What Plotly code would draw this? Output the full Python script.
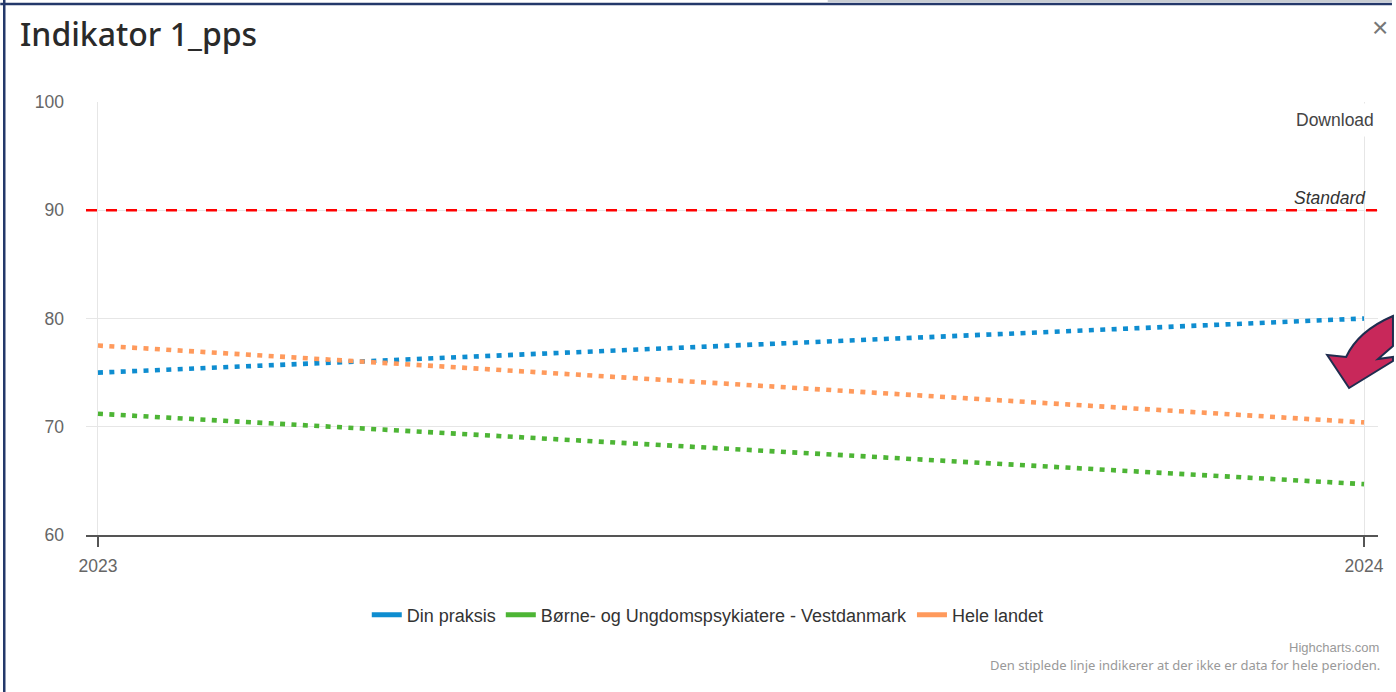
import plotly.graph_objects as go

# ---- data ----
years = [2023, 2024]
year_labels = ["2023", "2024"]
din_praksis = [75.0, 80.0]
vestdanmark = [71.2, 64.7]
hele_landet = [77.5, 70.4]
standard_value = 90
series_names = ["Din praksis", "Børne- og Ungdomspsykiatere - Vestdanmark", "Hele landet"]
series_colors = ["#0E8DD0", "#4DB535", "#FF9A5C"]
y_ticks = [60, 70, 80, 90, 100]

W, H = 1396, 692
ML, MR, MT, MB = 86, 14, 102, 157
PW, PH = W - ML - MR, H - MT - MB


def px(x):
    return (x - ML) / PW


def py(y):
    return (H - MB - y) / PH


fig = go.Figure()
for vals, name, col in zip([din_praksis, vestdanmark, hele_landet], series_names, series_colors):
    fig.add_trace(go.Scatter(x=years, y=vals, mode="lines", name=name, showlegend=False,
                             line=dict(color=col, width=4.6, dash="5px,6.4px")))
    fig.add_trace(go.Scatter(x=[None], y=[None], mode="lines", name=name, showlegend=True,
                             line=dict(color=col, width=5)))

# x range with Highcharts-like padding
x0 = 2023 - 12 / 1270
x1 = 2023 + (PW - 12) / 1270

fig.update_layout(
    width=W, height=H,
    margin=dict(l=ML, r=MR, t=MT, b=MB),
    paper_bgcolor="white", plot_bgcolor="white",
    font=dict(family="Liberation Sans, Arial, sans-serif", color="#333333"),
    title=dict(text="Indikator 1_pps", x=20 / W, xref="container", xanchor="left",
               y=1 - 35 / H, yref="container", yanchor="middle",
               font=dict(family="Noto Sans, Open Sans, sans-serif", size=32, weight=500,
                         color="#2a2a2a")),
    xaxis=dict(range=[x0, x1], tickvals=years, ticktext=year_labels,
               showgrid=True, gridcolor="#e6e6e6", gridwidth=1,
               showline=True, linecolor="#555555", linewidth=1.5,
               ticks="outside", ticklen=10, tickwidth=1.5, tickcolor="#555555",
               ticklabelstandoff=4,
               tickfont=dict(size=17.5, color="#666666"), zeroline=False, fixedrange=True),
    yaxis=dict(range=[60, 100], tickvals=y_ticks, showgrid=True, gridcolor="#e6e6e6",
               gridwidth=1, showline=False, zeroline=False, ticks="",
               ticklabelstandoff=21,
               tickfont=dict(size=17.5, color="#666666"), fixedrange=True),
    legend=dict(orientation="h", x=0.507, xref="container", xanchor="center",
                y=1 - 615 / H, yref="container", yanchor="middle",
                font=dict(size=18, color="#333333"), itemwidth=30),
    showlegend=True,
)

# standard line
fig.add_shape(type="line", xref="paper", yref="y", x0=0, x1=1, y0=standard_value, y1=standard_value,
              line=dict(color="#FF0000", width=2.5, dash="11px,9px"), layer="above")

annotations = [
    dict(text="<i>Standard</i>", xref="paper", yref="y", x=px(1372), y=standard_value,
         xanchor="right", yanchor="bottom", showarrow=False, yshift=0,
         font=dict(size=17.5, color="#333333")),
    dict(text="Download", xref="paper", yref="paper", x=px(1385), y=py(120),
         xanchor="right", yanchor="middle", showarrow=False, bgcolor="white", borderpad=6,
         font=dict(size=17.5, color="#444444")),
    dict(text="×", xref="paper", yref="paper", x=px(1384), y=py(28),
         xanchor="center", yanchor="middle", showarrow=False,
         font=dict(size=28, color="#777777")),
    dict(text="Highcharts.com", xref="paper", yref="paper", x=px(1385), y=py(647),
         xanchor="right", yanchor="middle", showarrow=False,
         font=dict(size=13, color="#999999")),
    dict(text="Den stiplede linje indikerer at der ikke er data for hele perioden.",
         xref="paper", yref="paper", x=px(1386), y=py(665),
         xanchor="right", yanchor="middle", showarrow=False,
         font=dict(family="Noto Sans, Open Sans, sans-serif", size=13, color="#999999")),
]
fig.update_layout(annotations=annotations)

# frame borders
fig.add_shape(type="line", xref="paper", yref="paper", x0=px(0), x1=px(W), y0=py(4), y1=py(4),
              line=dict(color="#24386A", width=2.5))
fig.add_shape(type="line", xref="paper", yref="paper", x0=px(830), x1=px(W), y0=py(1), y1=py(1),
              line=dict(color="#C8CCD2", width=2))
fig.add_shape(type="line", xref="paper", yref="paper", x0=px(4), x1=px(4), y0=py(0), y1=py(H),
              line=dict(color="#24386A", width=2.5))

# decorative arrow (overlay)
pts = [(1331, 355), (1353, 388), (1397, 361), (1397, 357), (1382, 359), (1397, 346), (1397, 316)]
path = "M {} {} ".format(px(pts[0][0]), py(pts[0][1]))
for (a, b) in pts[1:]:
    path += "L {} {} ".format(px(a), py(b))
path += "Q {} {} {} {} Z".format(px(1362), py(331), px(1350), py(357))
fig.add_shape(type="path", xref="paper", yref="paper", path=path,
              fillcolor="#C8285A", line=dict(color="#1F2D4F", width=2), layer="above")

fig.write_html("out.html")
